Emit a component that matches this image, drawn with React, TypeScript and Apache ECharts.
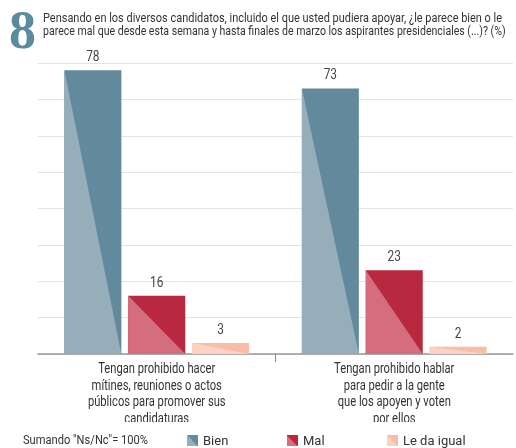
import React, { useEffect, useRef } from "react";
import * as echarts from "echarts";

const categories = [
  "Tengan prohibido hacer\nmítines, reuniones o actos\npúblicos para promover sus\ncandidaturas",
  "Tengan prohibido hablar\npara pedir a la gente\nque los apoyen y voten\npor ellos",
];
const seriesNames = ["Bien", "Mal", "Le da igual"];
const bienValues = [78, 73];
const malValues = [16, 23];
const igualValues = [3, 2];
const titleLine1 =
  "Pensando en los diversos candidatos, incluido el que usted pudiera apoyar, ¿le parece bien o le";
const titleLine2 =
  "parece mal que desde esta semana y hasta finales de marzo los aspirantes presidenciales (...)? (%)";
const footnote = "Sumando \"Ns/Nc\"= 100%";

const darkColors = ["#628a9c", "#b8283f", "#f8bda6"];
const lightColors = ["#96adba", "#d46e7e", "#fcd3c3"];

const FONT = 'Roboto, "Noto Sans", sans-serif';

function split(light: string, dark: string) {
  return {
    type: "linear",
    x: 0,
    y: 1,
    x2: 1,
    y2: 0,
    colorStops: [
      { offset: 0, color: light },
      { offset: 0.5, color: light },
      { offset: 0.5, color: dark },
      { offset: 1, color: dark },
    ],
  };
}

function measure(text: string, font: string): number {
  const c = document.createElement("canvas").getContext("2d");
  if (!c) return text.length * 6;
  c.font = font;
  return c.measureText(text).width;
}

export default function App() {
  const ref = useRef<HTMLDivElement>(null);
  useEffect(() => {
    if (!ref.current) return;
    const chart = echarts.init(ref.current, undefined, { renderer: "svg" });
    const allValues = [bienValues, malValues, igualValues];

    const catFont = `14px ${FONT}`;
    const catScale = 138 / measure("públicos para promover sus", catFont);

    const series = allValues.map((vals, s) => ({
      name: seriesNames[s],
      type: "custom",
      itemStyle: { color: darkColors[s] },
      encode: { x: 0, y: 1 },
      data: vals.map((v, i) => [i, v]),
      renderItem: (params: any, api: any) => {
        const cat = api.value(0);
        const v = api.value(1);
        const base = api.coord([cat, 0]);
        const top = api.coord([cat, v]);
        const band = api.size([1, 0])[0];
        const w = band * 0.24;
        const gap = band * 0.029;
        const cx = base[0] + (s - 1) * (w + gap);
        const x0 = cx - w / 2;
        const x1 = cx + w / 2;
        const children: any[] = [
          {
            type: "rect",
            shape: { x: x0, y: top[1], width: w, height: base[1] - top[1] },
            style: { fill: darkColors[s] },
          },
          {
            type: "polygon",
            shape: {
              points: [
                [x0, top[1]],
                [x0, base[1]],
                [x1, base[1]],
              ],
            },
            style: { fill: lightColors[s] },
          },
          {
            type: "text",
            x: cx,
            y: top[1] - 7,
            scaleX: 0.85,
            style: {
              text: String(v),
              x: 0,
              y: 0,
              align: "center",
              verticalAlign: "bottom",
              fill: "#444",
              font: `14px ${FONT}`,
            },
          },
        ];
        if (s === 0 && cat > 0) {
          const bx = base[0] - band / 2;
          children.push({
            type: "line",
            shape: { x1: bx, y1: base[1], x2: bx, y2: base[1] + 8 },
            style: { stroke: "#888", lineWidth: 1 },
          });
        }
        if (s === 1) {
          children.push({
            type: "text",
            x: base[0],
            y: base[1] + 6,
            scaleX: catScale,
            style: {
              text: categories[cat],
              x: 0,
              y: 0,
              align: "center",
              verticalAlign: "top",
              lineHeight: 16.5,
              fill: "#333",
              font: catFont,
            },
          });
        }
        return { type: "group", children };
      },
    }));

    const legends = seriesNames.map((n, s) => ({
      left: 187 + s * 100,
      top: 434,
      itemWidth: 11,
      itemHeight: 11,
      itemGap: 5,
      padding: 0,
      selectedMode: false,
      textStyle: { fontSize: 13, color: "#333", fontFamily: FONT },
      data: [{ name: n, icon: "rect", itemStyle: { color: split(lightColors[s], darkColors[s]) } }],
    }));

    const titleFont = `12.5px ${FONT}`;
    const s1 = 460 / measure(titleLine1, titleFont);
    const s2 = 463 / measure(titleLine2, titleFont);
    const footFont = `13px ${FONT}`;
    const sf = 125 / measure(footnote, footFont);

    chart.setOption({
      animation: false,
      grid: { left: 38, right: 3, top: 63, bottom: 94 },
      legend: legends,
      xAxis: {
        type: "category",
        data: categories,
        axisLine: { lineStyle: { color: "#999", width: 1.5 } },
        axisTick: { show: false },
        axisLabel: { show: false },
      },
      yAxis: {
        type: "value",
        min: 0,
        max: 80,
        interval: 10,
        axisLabel: { show: false },
        axisLine: { show: false },
        axisTick: { show: false },
        splitLine: { lineStyle: { color: "#e3e3e3", width: 1 } },
      },
      graphic: [
        {
          type: "text",
          x: 9,
          y: 30,
          style: {
            text: "8",
            x: 0,
            y: 0,
            verticalAlign: "middle",
            fill: "#5b8ba0",
            font: 'bold 54px "Liberation Serif", "DejaVu Serif", serif',
          },
        },
        {
          type: "text",
          x: 43,
          y: 18,
          scaleX: s1,
          style: { text: titleLine1, x: 0, y: 0, verticalAlign: "middle", fill: "#333", font: titleFont },
        },
        {
          type: "text",
          x: 43,
          y: 31,
          scaleX: s2,
          style: { text: titleLine2, x: 0, y: 0, verticalAlign: "middle", fill: "#333", font: titleFont },
        },
        {
          type: "rect",
          left: 0,
          top: 422,
          z: 100,
          shape: { width: 516, height: 9 },
          style: { fill: "#fff" },
        },
        {
          type: "text",
          x: 23,
          y: 440,
          scaleX: sf,
          style: { text: footnote, x: 0, y: 0, verticalAlign: "middle", fill: "#333", font: footFont },
        },
      ],
      series,
    });
    return () => chart.dispose();
  }, []);
  return (
    <div
      ref={ref}
      style={{ position: "fixed", left: 0, top: 0, width: 516, height: 448 }}
    />
  );
}
